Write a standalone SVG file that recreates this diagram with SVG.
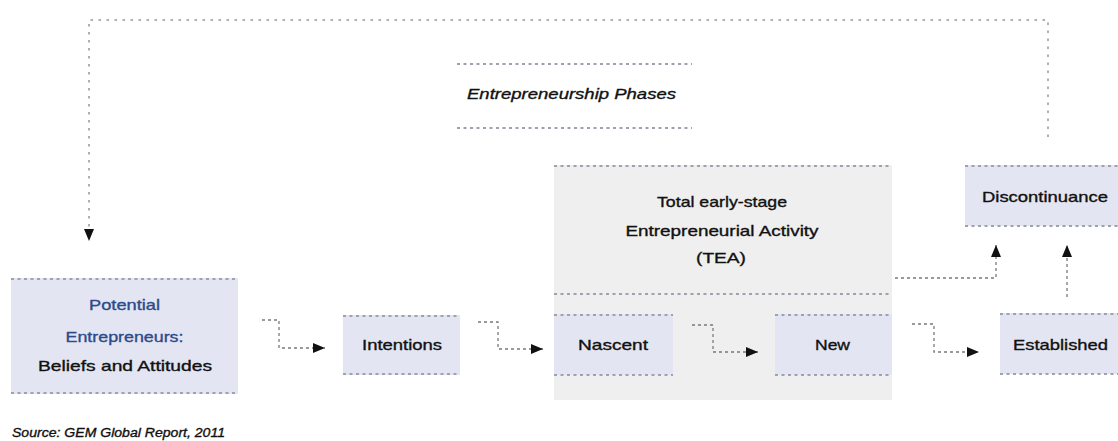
<svg xmlns="http://www.w3.org/2000/svg" width="1118" height="441" viewBox="0 0 1118 441">
<defs>
<style>
.box{fill:#e3e6f2}
.tea{fill:#efefef}
.dot{stroke:#9ea2ae;stroke-width:1.8;stroke-dasharray:3 3.5;fill:none}
.t{font-family:"Liberation Sans",Arial,sans-serif;font-size:15px;fill:#111;stroke:#111;stroke-width:0.35;text-anchor:middle}
.blue{fill:#2e4a8c;stroke:#2e4a8c}
.it{font-style:italic}
.conn{stroke:#7a7a7a;stroke-width:1.3;stroke-dasharray:3 3;fill:none}
.fb{stroke:#b0b0b0;stroke-width:2;stroke-dasharray:2.5 5.5;fill:none}
</style>
<marker id="ah" markerUnits="userSpaceOnUse" markerWidth="13" markerHeight="11" refX="12" refY="5" orient="auto">
<path d="M0,0 L12,5 L0,10 Z" fill="#111"/>
</marker>
</defs>
<rect width="1118" height="441" fill="#ffffff"/>

<g id="title">
<line class="dot" x1="457" y1="64" x2="692" y2="64"/>
<line class="dot" x1="457" y1="128" x2="692" y2="128"/>
<text class="t it" x="571.5" y="99" textLength="209" lengthAdjust="spacingAndGlyphs">Entrepreneurship Phases</text>
</g>

<g id="tea">
<rect class="tea" x="554" y="165" width="338" height="235"/>
<line class="dot" x1="554" y1="166" x2="892" y2="166"/>
<line class="dot" x1="554" y1="294" x2="892" y2="294"/>
<text class="t" x="722" y="207" textLength="130" lengthAdjust="spacingAndGlyphs">Total early-stage</text>
<text class="t" x="722" y="236" textLength="193" lengthAdjust="spacingAndGlyphs">Entrepreneurial Activity</text>
<text class="t" x="721" y="263" textLength="50" lengthAdjust="spacingAndGlyphs">(TEA)</text>
</g>

<g id="potential">
<rect class="box" x="11" y="278" width="227" height="116"/>
<line class="dot" x1="11" y1="279" x2="238" y2="279"/>
<line class="dot" x1="11" y1="393" x2="238" y2="393"/>
<text class="t blue" x="124.5" y="310" textLength="71" lengthAdjust="spacingAndGlyphs">Potential</text>
<text class="t blue" x="124.5" y="342" textLength="118" lengthAdjust="spacingAndGlyphs">Entrepreneurs:</text>
<text class="t" x="125" y="371" textLength="174" lengthAdjust="spacingAndGlyphs">Beliefs and Attitudes</text>
</g>

<g id="intentions">
<rect class="box" x="343" y="315" width="117" height="60"/>
<line class="dot" x1="343" y1="316" x2="460" y2="316"/>
<line class="dot" x1="343" y1="374" x2="460" y2="374"/>
<text class="t" x="402" y="350" textLength="80" lengthAdjust="spacingAndGlyphs">Intentions</text>
</g>

<g id="nascent">
<rect class="box" x="554" y="314" width="119" height="61"/>
<line class="dot" x1="554" y1="315" x2="673" y2="315"/>
<line class="dot" x1="554" y1="375" x2="673" y2="375"/>
<text class="t" x="613" y="350" textLength="70" lengthAdjust="spacingAndGlyphs">Nascent</text>
</g>

<g id="new">
<rect class="box" x="775" y="314" width="117" height="61"/>
<line class="dot" x1="775" y1="315" x2="892" y2="315"/>
<line class="dot" x1="775" y1="375" x2="892" y2="375"/>
<text class="t" x="832.5" y="350" textLength="35" lengthAdjust="spacingAndGlyphs">New</text>
</g>

<g id="discontinuance">
<rect class="box" x="965" y="165" width="153" height="61"/>
<line class="dot" x1="965" y1="166" x2="1118" y2="166"/>
<line class="dot" x1="965" y1="226" x2="1118" y2="226"/>
<text class="t" x="1045" y="202" textLength="126" lengthAdjust="spacingAndGlyphs">Discontinuance</text>
</g>

<g id="established">
<rect class="box" x="1000" y="313" width="118" height="61"/>
<line class="dot" x1="1000" y1="314" x2="1118" y2="314"/>
<line class="dot" x1="1000" y1="374" x2="1118" y2="374"/>
<text class="t" x="1060.5" y="350" textLength="95" lengthAdjust="spacingAndGlyphs">Established</text>
</g>

<g id="connectors">
<path class="fb" d="M1048,137 V20 H89 V228"/>
<path d="M89,229 V241" stroke="none" fill="none" marker-end="url(#ah)"/>
<path class="conn" d="M262,320 H279 V348 H325" marker-end="url(#ah)"/>
<path class="conn" d="M478,322 H498 V349 H543" marker-end="url(#ah)"/>
<path class="conn" d="M692,325 H713 V352 H758" marker-end="url(#ah)"/>
<path class="conn" d="M912,324 H934 V352 H979" marker-end="url(#ah)"/>
<path class="conn" d="M895,278 H996 V245" marker-end="url(#ah)"/>
<path class="conn" d="M1067,297 V245" marker-end="url(#ah)"/>
</g>

<text class="t it" x="12" y="437" style="text-anchor:start;font-size:13px" textLength="213" lengthAdjust="spacingAndGlyphs">Source: GEM Global Report, 2011</text>
</svg>
